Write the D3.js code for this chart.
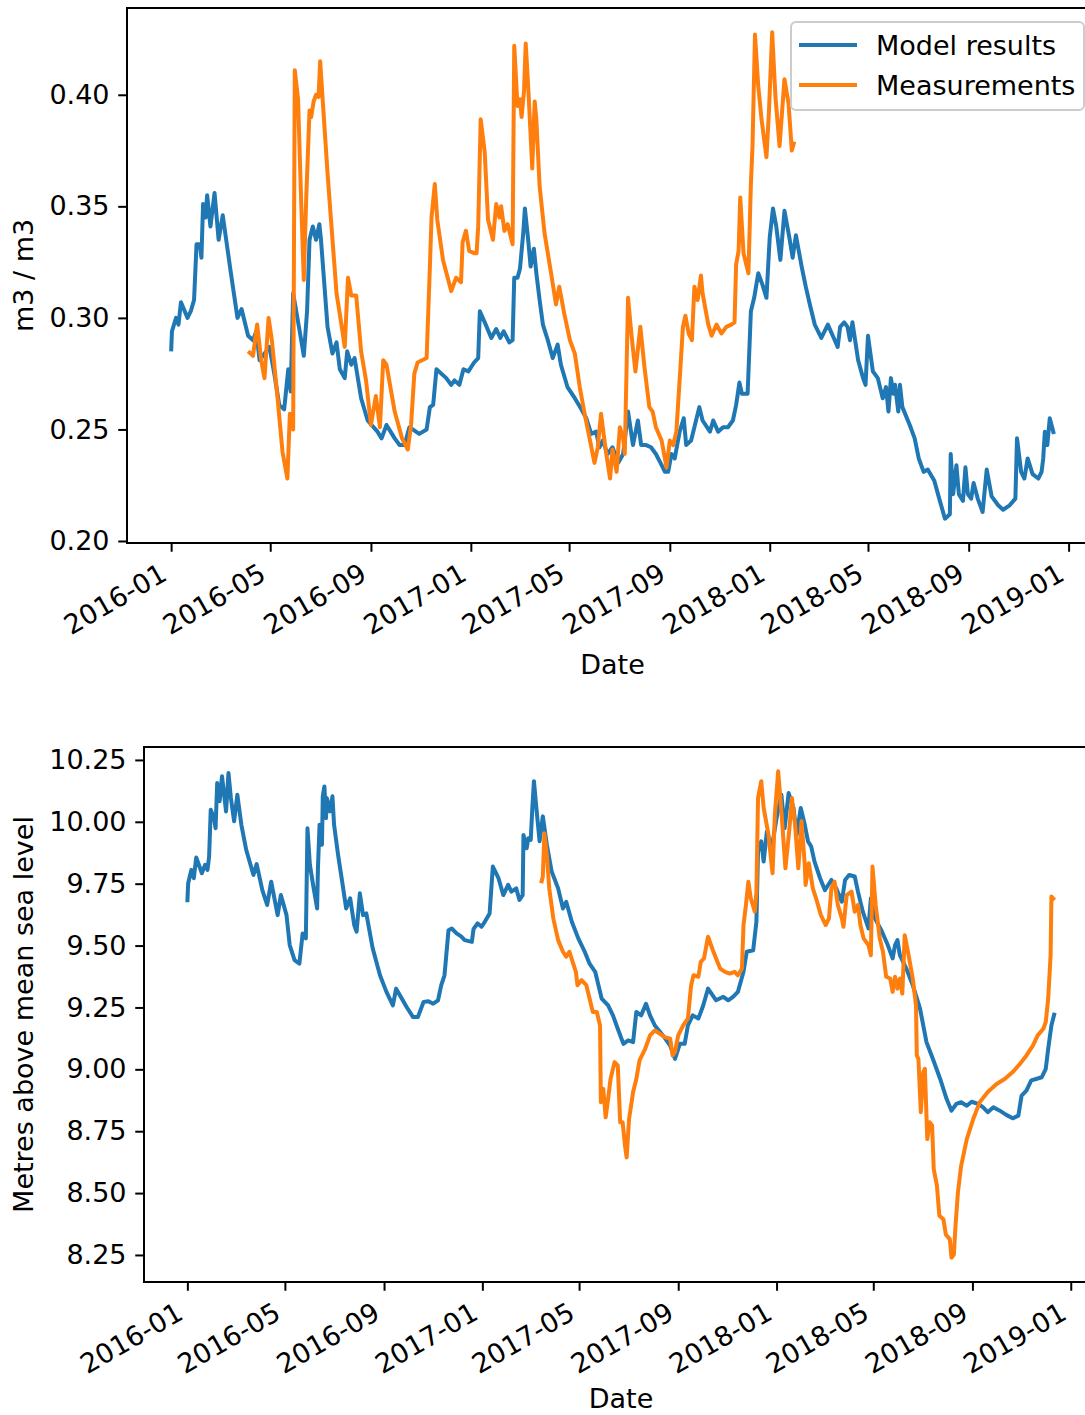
<!DOCTYPE html>
<html>
<head>
<meta charset="utf-8">
<script src="https://cdn.jsdelivr.net/npm/d3@7"></script>
<style>
  body { margin: 0; background: #fff; }
  svg { display: block; font-family: "DejaVu Sans", sans-serif; }
</style>
</head>
<body>
<div id="vis-container"></div>
<script>
// Set dimensions for the figure
const width = 1085;
const height = 1415;
const fontSize = 27;

// day 0 of every series is 2016-01-01
const startDate = Date.UTC(2016, 0, 1);

const dateTickLabels = ["2016-01", "2016-05", "2016-09", "2017-01", "2017-05",
  "2017-09", "2018-01", "2018-05", "2018-09", "2019-01"];
const soilTicks = [0.20, 0.25, 0.30, 0.35, 0.40];
const levelTicks = [8.25, 8.50, 8.75, 9.00, 9.25, 9.50, 9.75, 10.00, 10.25];
const seriesNames = ["Model results", "Measurements"];

// soil moisture, model  [day, m3/m3]
const soilModel = [[0,0.285],[1,0.294],[6,0.300],[9,0.297],[12,0.307],[20,0.300],[24,0.303],[28,0.308],[31,0.333],[35,0.333],[37,0.327],[39,0.351],[42,0.345],[44,0.355],[48,0.341],[53,0.356],[58,0.335],[63,0.346],[73,0.320],[81,0.300],[86,0.304],[94,0.292],[100,0.290],[104,0.294],[108,0.281],[114,0.284],[120,0.287],[126,0.275],[132,0.261],[138,0.259],[140,0.266],[143,0.277],[146,0.267],[149,0.311],[157,0.294],[162,0.283],[166,0.303],[169,0.335],[173,0.341],[177,0.335],[181,0.342],[183,0.335],[191,0.296],[197,0.284],[202,0.289],[206,0.277],[212,0.273],[215,0.285],[220,0.279],[224,0.282],[232,0.264],[240,0.254],[252,0.249],[257,0.246],[263,0.252],[273,0.246],[279,0.243],[285,0.243],[291,0.251],[303,0.248],[312,0.250],[316,0.260],[320,0.261],[324,0.277],[336,0.273],[342,0.270],[346,0.272],[352,0.270],[357,0.277],[363,0.276],[370,0.280],[375,0.282],[377,0.303],[383,0.298],[391,0.291],[397,0.295],[402,0.291],[406,0.294],[413,0.289],[417,0.290],[419,0.318],[423,0.318],[426,0.322],[430,0.338],[432,0.349],[436,0.335],[439,0.323],[443,0.331],[446,0.320],[450,0.308],[454,0.297],[460,0.290],[466,0.282],[472,0.288],[476,0.279],[484,0.269],[493,0.264],[501,0.259],[507,0.255],[513,0.248],[519,0.249],[523,0.242],[527,0.245],[533,0.239],[539,0.242],[546,0.235],[552,0.239],[558,0.258],[564,0.243],[570,0.254],[574,0.243],[580,0.243],[586,0.242],[592,0.239],[599,0.234],[603,0.231],[607,0.231],[611,0.239],[615,0.237],[621,0.249],[626,0.255],[629,0.243],[635,0.245],[639,0.251],[645,0.260],[649,0.254],[658,0.249],[662,0.254],[668,0.249],[674,0.251],[680,0.251],[686,0.254],[690,0.261],[694,0.271],[697,0.266],[704,0.266],[708,0.303],[712,0.309],[717,0.320],[722,0.315],[727,0.309],[731,0.336],[735,0.349],[739,0.341],[744,0.326],[749,0.348],[755,0.336],[759,0.327],[763,0.337],[770,0.323],[775,0.314],[780,0.306],[786,0.297],[794,0.291],[802,0.297],[808,0.292],[814,0.287],[817,0.296],[822,0.298],[826,0.296],[829,0.290],[832,0.298],[839,0.281],[845,0.273],[848,0.270],[851,0.292],[857,0.276],[863,0.273],[869,0.264],[873,0.269],[876,0.258],[879,0.273],[882,0.266],[884,0.270],[888,0.258],[890,0.270],[893,0.260],[902,0.252],[908,0.246],[913,0.237],[919,0.231],[924,0.232],[932,0.227],[938,0.219],[945,0.210],[951,0.212],[952,0.239],[955,0.221],[959,0.234],[962,0.221],[967,0.218],[970,0.233],[973,0.221],[977,0.219],[980,0.226],[985,0.219],[991,0.213],[996,0.232],[1002,0.220],[1010,0.216],[1016,0.214],[1024,0.216],[1031,0.219],[1033,0.246],[1038,0.231],[1042,0.228],[1046,0.237],[1052,0.230],[1059,0.228],[1063,0.231],[1065,0.237],[1067,0.249],[1070,0.243],[1073,0.255],[1078,0.248]];

// soil moisture, measured
const soilMeas = [[94,0.285],[100,0.283],[105,0.297],[110,0.281],[114,0.273],[119,0.300],[123,0.290],[130,0.264],[136,0.240],[142,0.228],[145,0.257],[149,0.250],[151,0.411],[155,0.398],[159,0.350],[162,0.317],[165,0.354],[169,0.393],[171,0.390],[174,0.397],[177,0.400],[180,0.399],[182,0.415],[187,0.387],[191,0.365],[195,0.345],[202,0.311],[208,0.297],[212,0.287],[216,0.318],[220,0.310],[226,0.310],[232,0.285],[238,0.272],[244,0.252],[250,0.265],[255,0.251],[259,0.281],[263,0.279],[273,0.258],[282,0.246],[289,0.241],[293,0.252],[297,0.275],[301,0.280],[312,0.282],[316,0.323],[318,0.345],[322,0.360],[325,0.344],[332,0.326],[342,0.312],[348,0.318],[354,0.316],[356,0.334],[360,0.339],[364,0.330],[370,0.329],[373,0.329],[375,0.341],[378,0.389],[383,0.374],[387,0.344],[393,0.335],[397,0.351],[401,0.345],[403,0.350],[407,0.339],[411,0.342],[417,0.333],[419,0.422],[423,0.395],[426,0.398],[428,0.390],[431,0.402],[433,0.423],[436,0.404],[441,0.367],[444,0.397],[446,0.389],[450,0.359],[456,0.338],[464,0.320],[470,0.306],[474,0.314],[480,0.302],[487,0.290],[493,0.284],[499,0.269],[505,0.257],[511,0.246],[517,0.235],[521,0.242],[525,0.257],[531,0.240],[536,0.228],[539,0.241],[544,0.231],[548,0.251],[552,0.246],[554,0.239],[558,0.309],[562,0.293],[567,0.276],[573,0.296],[578,0.278],[584,0.260],[588,0.258],[592,0.251],[599,0.245],[605,0.233],[609,0.245],[613,0.243],[617,0.249],[622,0.278],[625,0.296],[628,0.301],[632,0.293],[636,0.290],[639,0.314],[643,0.308],[647,0.319],[649,0.311],[656,0.297],[660,0.292],[666,0.297],[672,0.293],[678,0.296],[684,0.297],[688,0.298],[690,0.324],[693,0.330],[695,0.354],[699,0.329],[705,0.320],[708,0.360],[710,0.377],[713,0.427],[717,0.404],[721,0.389],[727,0.372],[730,0.392],[734,0.428],[738,0.399],[743,0.377],[749,0.407],[754,0.396],[758,0.375],[761,0.379]];

// groundwater level, model  [day, m above msl]
const levelModel = [[0,9.675],[1,9.752],[5,9.806],[8,9.772],[11,9.856],[18,9.792],[22,9.826],[25,9.806],[27,9.860],[29,10.049],[33,10.015],[35,9.974],[37,10.157],[40,10.083],[43,10.184],[48,10.042],[51,10.197],[54,10.096],[58,10.002],[62,10.109],[67,9.988],[73,9.887],[82,9.785],[86,9.829],[93,9.724],[99,9.664],[104,9.758],[112,9.623],[116,9.704],[123,9.623],[127,9.502],[133,9.441],[139,9.427],[143,9.549],[147,9.529],[149,9.974],[152,9.826],[156,9.745],[161,9.650],[162,9.812],[164,9.988],[167,9.907],[168,10.103],[170,10.143],[172,10.015],[173,10.096],[177,10.042],[180,10.103],[182,9.988],[187,9.866],[193,9.738],[197,9.650],[202,9.691],[207,9.583],[210,9.556],[214,9.711],[218,9.623],[222,9.630],[230,9.488],[239,9.380],[247,9.313],[255,9.258],[259,9.326],[266,9.286],[272,9.252],[280,9.211],[286,9.211],[293,9.272],[299,9.275],[305,9.265],[311,9.279],[315,9.340],[319,9.380],[324,9.562],[328,9.569],[334,9.549],[340,9.536],[344,9.522],[353,9.515],[355,9.566],[360,9.590],[365,9.576],[369,9.596],[375,9.630],[379,9.819],[386,9.772],[392,9.704],[398,9.745],[402,9.718],[408,9.731],[412,9.684],[416,9.704],[417,9.947],[421,9.893],[423,9.934],[426,9.927],[428,10.056],[430,10.164],[433,10.056],[437,9.921],[441,10.022],[446,9.907],[452,9.799],[460,9.731],[466,9.650],[470,9.677],[477,9.596],[485,9.529],[493,9.475],[499,9.427],[506,9.394],[514,9.286],[522,9.258],[528,9.218],[534,9.164],[541,9.103],[547,9.117],[553,9.110],[557,9.232],[563,9.218],[569,9.265],[574,9.218],[580,9.177],[590,9.137],[599,9.096],[605,9.042],[611,9.103],[617,9.103],[621,9.177],[627,9.218],[634,9.205],[640,9.258],[646,9.326],[656,9.279],[665,9.293],[671,9.279],[677,9.293],[683,9.313],[690,9.394],[694,9.475],[702,9.481],[706,9.596],[708,9.880],[712,9.921],[715,9.840],[719,9.961],[725,9.893],[731,10.015],[737,10.109],[741,9.974],[746,10.116],[752,10.056],[756,9.947],[761,10.056],[766,9.988],[770,9.921],[774,9.900],[778,9.840],[785,9.772],[791,9.724],[799,9.765],[805,9.731],[812,9.677],[816,9.765],[821,9.785],[828,9.779],[832,9.718],[838,9.637],[845,9.569],[848,9.691],[853,9.610],[861,9.562],[869,9.502],[875,9.448],[878,9.502],[881,9.522],[884,9.461],[892,9.407],[900,9.340],[909,9.245],[917,9.110],[925,9.042],[934,8.961],[942,8.880],[948,8.833],[954,8.860],[960,8.867],[967,8.853],[973,8.869],[981,8.860],[987,8.847],[993,8.827],[1000,8.847],[1008,8.833],[1016,8.816],[1024,8.802],[1031,8.813],[1035,8.894],[1041,8.914],[1047,8.955],[1053,8.961],[1060,8.968],[1065,9.002],[1068,9.083],[1072,9.177],[1076,9.229]];

// groundwater level, measured
const levelMeas = [[439,9.752],[441,9.779],[443,9.954],[446,9.866],[449,9.731],[454,9.610],[460,9.522],[466,9.475],[470,9.455],[474,9.475],[478,9.434],[482,9.394],[484,9.340],[489,9.360],[495,9.340],[499,9.286],[503,9.232],[508,9.232],[512,9.177],[513,8.867],[516,8.921],[519,8.806],[522,8.880],[525,8.961],[530,9.029],[534,9.015],[537,8.786],[540,8.786],[543,8.691],[545,8.644],[548,8.799],[553,8.908],[557,8.961],[561,9.036],[568,9.083],[574,9.137],[580,9.157],[586,9.144],[592,9.130],[599,9.124],[602,9.056],[605,9.070],[609,9.137],[615,9.177],[621,9.205],[625,9.340],[628,9.380],[634,9.374],[637,9.434],[641,9.448],[646,9.536],[652,9.481],[656,9.448],[661,9.407],[667,9.394],[673,9.387],[679,9.394],[683,9.380],[688,9.407],[690,9.583],[693,9.664],[696,9.758],[699,9.691],[704,9.637],[706,9.718],[708,10.096],[712,10.164],[715,10.056],[721,9.947],[726,9.792],[729,10.035],[733,10.204],[737,10.042],[742,9.812],[747,9.974],[750,10.096],[754,9.988],[758,9.812],[762,10.002],[766,9.826],[767,9.745],[771,9.833],[776,9.731],[780,9.691],[786,9.623],[792,9.583],[796,9.610],[799,9.731],[803,9.758],[807,9.664],[812,9.610],[814,9.576],[818,9.704],[824,9.718],[828,9.637],[832,9.664],[835,9.583],[839,9.529],[845,9.502],[848,9.461],[850,9.819],[854,9.664],[859,9.529],[863,9.475],[867,9.374],[872,9.367],[875,9.313],[878,9.374],[881,9.326],[884,9.367],[887,9.306],[890,9.542],[894,9.475],[900,9.367],[904,9.258],[905,9.056],[907,9.042],[910,8.827],[913,8.989],[915,9.002],[918,8.718],[921,8.786],[924,8.772],[926,8.597],[930,8.529],[933,8.408],[938,8.394],[941,8.333],[946,8.313],[948,8.239],[951,8.252],[953,8.367],[956,8.502],[960,8.610],[967,8.718],[975,8.799],[983,8.867],[993,8.908],[1004,8.941],[1014,8.961],[1024,8.989],[1033,9.022],[1041,9.056],[1049,9.096],[1055,9.137],[1062,9.164],[1065,9.191],[1068,9.286],[1071,9.461],[1072,9.698],[1076,9.684]];

const colors = ["#1f77b4", "#ff7f0e"];

const toDate = d => new Date(startDate + d * 864e5);
const parseMonth = d3.utcParse("%Y-%m");

const svg = d3.select("#vis-container")
  .append("svg")
  .attr("width", width)
  .attr("height", height);

// matplotlib-like panel: 5% data margins, outward ticks, full box
function drawPanel(id, box, series, yTicks, yLabel, xLabelOffset, withLegend) {
  const all = d3.merge(series);
  const xExt = d3.extent(all, d => d[0]);
  const yExt = d3.extent(all, d => d[1]);
  const xPad = (xExt[1] - xExt[0]) * 0.05;
  const yPad = (yExt[1] - yExt[0]) * 0.05;

  const x = d3.scaleUtc()
    .domain([toDate(xExt[0] - xPad), toDate(xExt[1] + xPad)])
    .range([box.left, box.right]);
  const y = d3.scaleLinear()
    .domain([yExt[0] - yPad, yExt[1] + yPad])
    .range([box.bottom, box.top]);

  svg.append("clipPath").attr("id", "clip-" + id)
    .append("rect")
    .attr("x", box.left).attr("y", box.top)
    .attr("width", box.right - box.left).attr("height", box.bottom - box.top);

  const line = d3.line()
    .x(d => x(toDate(d[0])))
    .y(d => y(d[1]));

  svg.append("g")
    .attr("clip-path", `url(#clip-${id})`)
    .selectAll("path")
    .data(series)
    .join("path")
    .attr("fill", "none")
    .attr("stroke", (d, i) => colors[i])
    .attr("stroke-width", 4)
    .attr("stroke-linejoin", "round")
    .attr("d", line);

  // y-axis
  svg.append("g")
    .attr("transform", `translate(${box.left},0)`)
    .call(d3.axisLeft(y).tickValues(yTicks).tickFormat(d3.format(".2f"))
      .tickSize(8.75).tickPadding(8.75))
    .call(g => g.select(".domain").remove())
    .call(g => g.selectAll("line").attr("stroke", "#000").attr("stroke-width", 2))
    .call(g => g.selectAll("text")
      .attr("fill", "#000")
      .attr("font-size", fontSize + "px")
      .attr("font-family", "DejaVu Sans"));

  // x-axis with rotated date labels
  svg.append("g")
    .attr("transform", `translate(0,${box.bottom})`)
    .call(d3.axisBottom(x).tickValues(dateTickLabels.map(parseMonth))
      .tickFormat(d3.utcFormat("%Y-%m")).tickSize(8.75).tickPadding(8.75))
    .call(g => g.select(".domain").remove())
    .call(g => g.selectAll("line").attr("stroke", "#000").attr("stroke-width", 2))
    .call(g => g.selectAll("text")
      .attr("fill", "#000")
      .attr("font-size", fontSize + "px")
      .attr("font-family", "DejaVu Sans")
      .attr("text-anchor", "end")
      .attr("x", 0).attr("y", 0).attr("dy", null)
      .attr("transform", "translate(-3,36) rotate(-30)"));

  // axes frame
  svg.append("rect")
    .attr("x", box.left).attr("y", box.top)
    .attr("width", box.right - box.left).attr("height", box.bottom - box.top)
    .attr("fill", "none")
    .attr("stroke", "#000")
    .attr("stroke-width", 2);

  // labels
  svg.append("text")
    .attr("x", (box.left + box.right) / 2)
    .attr("y", box.bottom + xLabelOffset)
    .attr("text-anchor", "middle")
    .attr("font-size", fontSize + "px")
    .text("Date");

  svg.append("text")
    .attr("transform", `translate(33,${(box.top + box.bottom) / 2}) rotate(-90)`)
    .attr("text-anchor", "middle")
    .attr("font-size", fontSize + "px")
    .text(yLabel);

  if (withLegend) {
    const lg = svg.append("g");
    lg.append("rect")
      .attr("x", 791).attr("y", 22)
      .attr("width", 293).attr("height", 88)
      .attr("rx", 5)
      .attr("fill", "#fff").attr("fill-opacity", 0.8)
      .attr("stroke", "#ccc").attr("stroke-width", 2);
    const rows = lg.selectAll("g.row")
      .data(seriesNames)
      .join("g")
      .attr("class", "row")
      .attr("transform", (d, i) => `translate(0,${45 + i * 40})`);
    rows.append("line")
      .attr("x1", 799).attr("x2", 857)
      .attr("stroke", (d, i) => colors[i])
      .attr("stroke-width", 4);
    rows.append("text")
      .attr("x", 876).attr("y", 10)
      .attr("font-size", fontSize + "px")
      .text(d => d);
  }
}

drawPanel("soil", { left: 127, right: 1098, top: 8, bottom: 543 },
  [soilModel, soilMeas], soilTicks, "m3 / m3", 131, true);

// bottom label kept just inside the page edge
drawPanel("level", { left: 144, right: 1098, top: 747, bottom: 1282 },
  [levelModel, levelMeas], levelTicks, "Metres above mean sea level", 126, false);
</script>
</body>
</html>
